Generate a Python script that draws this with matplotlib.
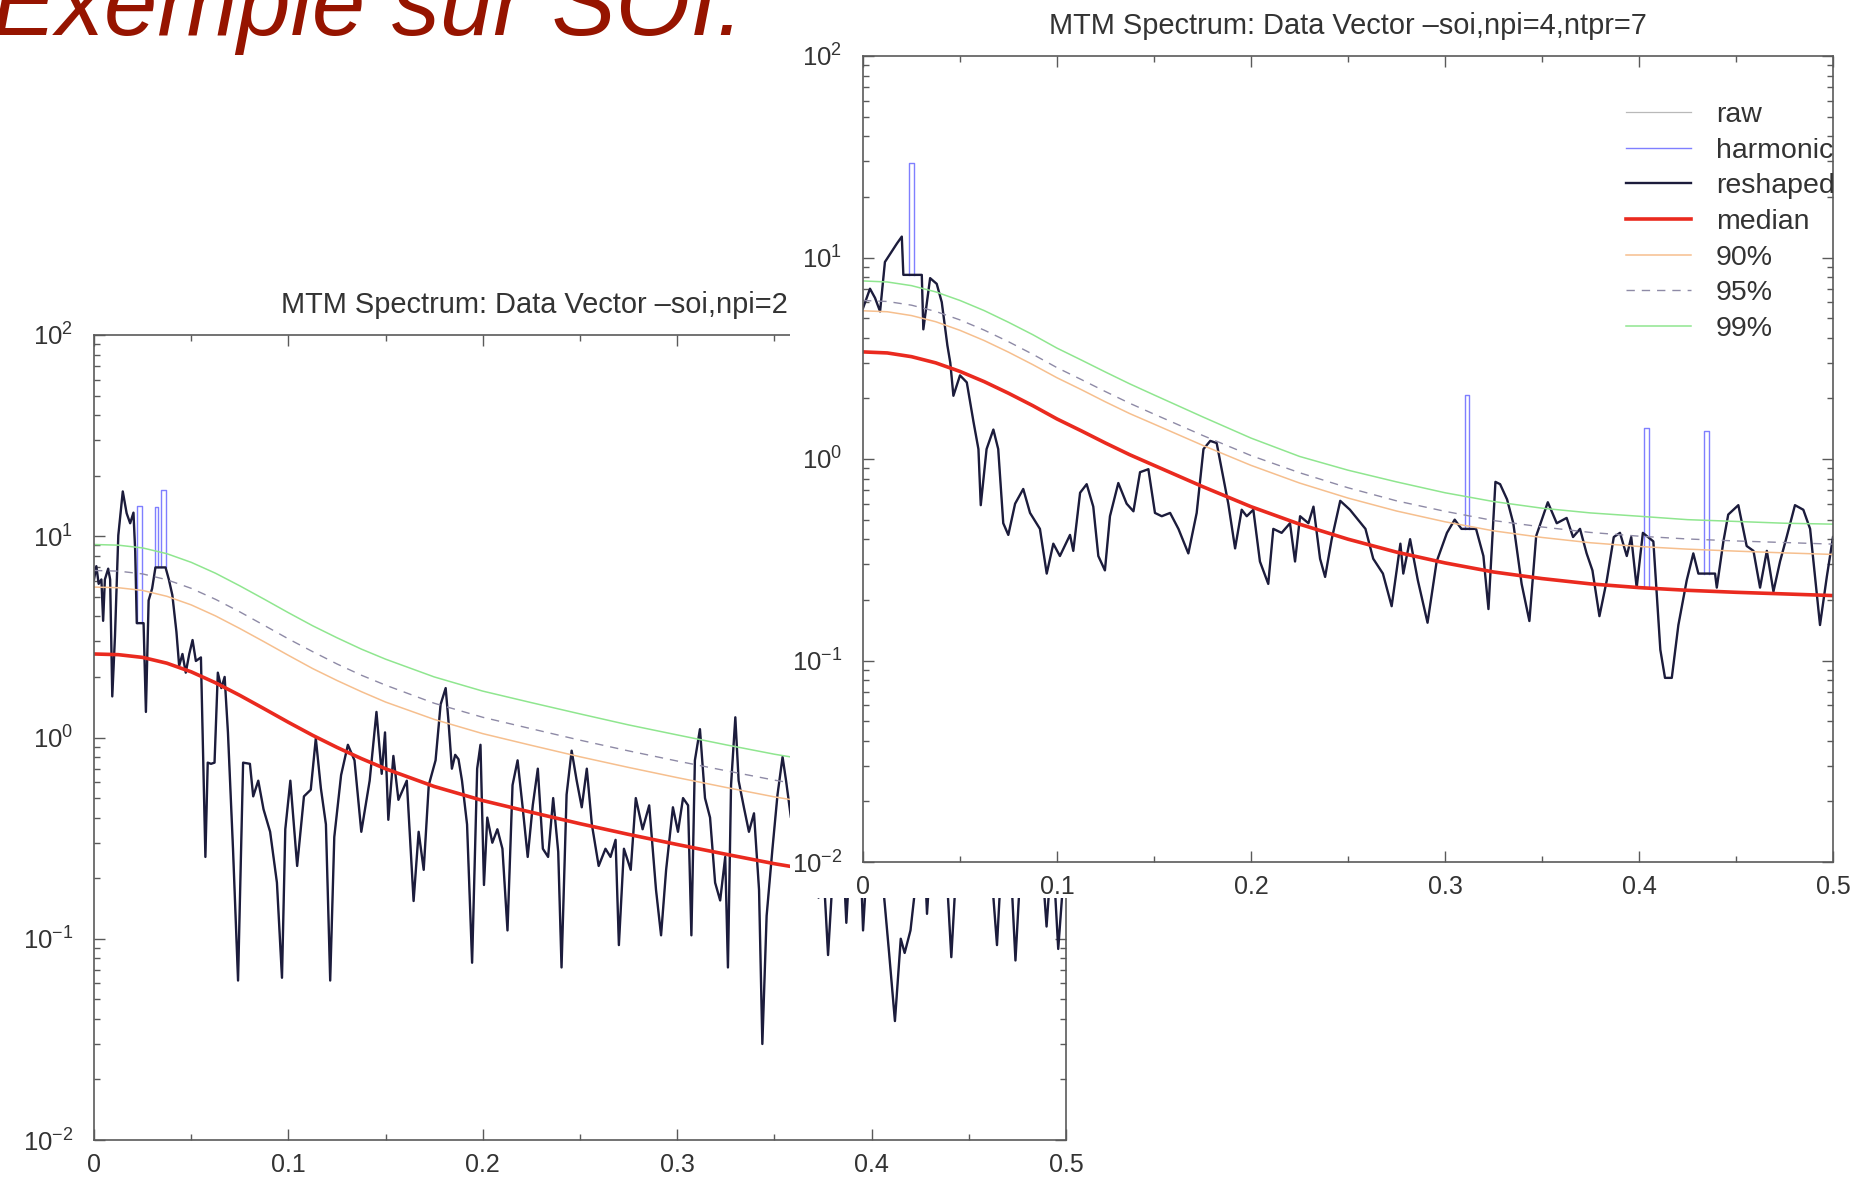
"""
plot.py - two MTM spectra of the SOI series, pasted one over the other like on the slide.
"""

import matplotlib
matplotlib.use("Agg")
import numpy as np
import matplotlib.pyplot as plt
import matplotlib.ticker as ticker


# ------------------------------------------------------------------
# 1. Data
# ------------------------------------------------------------------
# smooth red-noise background + confidence levels
noise_freq = [0.0, 0.0125, 0.025, 0.0375, 0.05, 0.0625, 0.075, 0.0875, 0.1,
              0.1125, 0.125, 0.1375, 0.15, 0.175, 0.2, 0.225, 0.25, 0.275, 0.3,
              0.325, 0.35, 0.375, 0.4, 0.425, 0.45, 0.475, 0.5]

left_median = [2.6, 2.58, 2.5, 2.34, 2.12, 1.87, 1.62, 1.39, 1.19,
               1.025, 0.893, 0.786, 0.699, 0.571, 0.486, 0.425, 0.373, 0.33, 0.294,
               0.263, 0.236, 0.215, 0.199, 0.188, 0.18, 0.175, 0.173]
left_p90 = [5.59, 5.55, 5.38, 5.03, 4.56, 4.02, 3.48, 2.99, 2.56,
            2.2, 1.92, 1.69, 1.5, 1.23, 1.045, 0.914, 0.802, 0.71, 0.632,
            0.565, 0.507, 0.462, 0.428, 0.404, 0.387, 0.376, 0.372]
left_p95 = [6.76, 6.71, 6.5, 6.08, 5.51, 4.86, 4.21, 3.61, 3.09,
            2.67, 2.32, 2.04, 1.82, 1.48, 1.26, 1.105, 0.97, 0.858, 0.764,
            0.684, 0.614, 0.559, 0.517, 0.489, 0.468, 0.455, 0.45]
left_p99 = [9.1, 9.03, 8.75, 8.19, 7.42, 6.55, 5.67, 4.87, 4.17,
            3.59, 3.13, 2.75, 2.45, 2.0, 1.7, 1.49, 1.31, 1.155, 1.03,
            0.92, 0.826, 0.753, 0.697, 0.658, 0.63, 0.613, 0.606]

right_median = [3.4, 3.36, 3.22, 3.0, 2.72, 2.42, 2.12, 1.84, 1.58,
                1.38, 1.2, 1.05, 0.93, 0.73, 0.58, 0.475, 0.40, 0.345, 0.305,
                0.275, 0.255, 0.24, 0.23, 0.223, 0.218, 0.214, 0.21]
right_p90 = [5.44, 5.38, 5.15, 4.8, 4.35, 3.87, 3.39, 2.94, 2.53,
             2.21, 1.92, 1.68, 1.49, 1.17, 0.93, 0.76, 0.64, 0.552, 0.488,
             0.44, 0.408, 0.384, 0.368, 0.357, 0.349, 0.342, 0.336]
right_p95 = [6.12, 6.05, 5.8, 5.4, 4.9, 4.36, 3.82, 3.31, 2.84,
             2.48, 2.16, 1.89, 1.67, 1.31, 1.04, 0.855, 0.72, 0.62, 0.55,
             0.495, 0.46, 0.432, 0.414, 0.401, 0.392, 0.385, 0.378]
right_p99 = [7.65, 7.56, 7.25, 6.75, 6.12, 5.45, 4.77, 4.14, 3.55,
             3.1, 2.7, 2.36, 2.08, 1.62, 1.27, 1.03, 0.88, 0.77, 0.68,
             0.615, 0.57, 0.54, 0.52, 0.5, 0.49, 0.48, 0.475]

# reshaped spectrum, npi=2 (left panel)
left_freq = [
    0.0, 0.0012, 0.0024, 0.0038, 0.0047, 0.0056, 0.0073, 0.0083, 0.0094, 0.0108,
    0.0125, 0.0148, 0.0168, 0.0186, 0.0203, 0.0212, 0.022, 0.0255, 0.0267, 0.0281,
    0.0299, 0.0316, 0.0368, 0.0385, 0.0403, 0.0424, 0.0438, 0.0455, 0.0472, 0.049,
    0.0507, 0.0524, 0.055, 0.0573, 0.0585, 0.0602, 0.062, 0.0637, 0.0655, 0.0672,
    0.0689, 0.0715, 0.0741, 0.0767, 0.0802, 0.0819, 0.0845, 0.0872, 0.0906, 0.0941,
    0.0967, 0.0984, 0.101, 0.1045, 0.108, 0.1115, 0.1141, 0.1167, 0.1193, 0.1215,
    0.1236, 0.1271, 0.1306, 0.134, 0.1375, 0.1418, 0.1453, 0.148, 0.1497, 0.1514,
    0.154, 0.1566, 0.1609, 0.1644, 0.167, 0.1696, 0.1722, 0.1757, 0.1783, 0.1809,
    0.1823, 0.1841, 0.1858, 0.1875, 0.1893, 0.1919, 0.1945, 0.1971, 0.1988, 0.2006,
    0.2023, 0.2049, 0.2075, 0.2101, 0.2127, 0.2153, 0.2179, 0.2205, 0.2231, 0.2257,
    0.2283, 0.2309, 0.2336, 0.2362, 0.2388, 0.2405, 0.2431, 0.2457, 0.2483, 0.2509,
    0.2535, 0.2561, 0.2596, 0.2631, 0.2657, 0.2683, 0.27, 0.2726, 0.2761, 0.2787,
    0.2822, 0.2856, 0.2891, 0.2917, 0.2943, 0.2978, 0.3004, 0.303, 0.3056, 0.3073,
    0.3091, 0.3117, 0.3143, 0.3169, 0.3195, 0.3221, 0.3247, 0.3261, 0.3277, 0.3299,
    0.3316, 0.3343, 0.3369, 0.3395, 0.3421, 0.3438, 0.346, 0.349, 0.3516, 0.3542,
    0.356, 0.3585, 0.362, 0.365, 0.37, 0.3727, 0.3745, 0.3776, 0.381, 0.384,
    0.387, 0.39, 0.393, 0.3956, 0.399, 0.403, 0.406, 0.409, 0.412, 0.415,
    0.417, 0.42, 0.423, 0.426, 0.4285, 0.432, 0.436, 0.441, 0.445, 0.45,
    0.455, 0.46, 0.4645, 0.468, 0.471, 0.474, 0.478, 0.483, 0.487, 0.49,
    0.493, 0.496, 0.5,
]
left_reshaped = [
    6.1, 7.1, 5.8, 6.1, 3.8, 6.1, 6.9, 6.1, 1.6, 3.2,
    10.1, 16.7, 13.0, 11.6, 13.1, 8.4, 3.7, 3.7, 1.34, 4.8,
    5.5, 7.0, 7.0, 6.1, 5.1, 3.35, 2.27, 2.6, 2.1, 2.6,
    3.05, 2.4, 2.5, 0.255, 0.75, 0.74, 0.75, 2.1, 1.76, 2.0,
    1.06, 0.28, 0.062, 0.75, 0.74, 0.51, 0.61, 0.44, 0.34, 0.19,
    0.064, 0.35, 0.61, 0.23, 0.51, 0.55, 0.99, 0.56, 0.37, 0.062,
    0.32, 0.65, 0.92, 0.77, 0.34, 0.61, 1.34, 0.66, 1.06, 0.39,
    0.81, 0.49, 0.61, 0.154, 0.34, 0.22, 0.58, 0.77, 1.46, 1.76,
    1.22, 0.70, 0.82, 0.78, 0.61, 0.37, 0.076, 0.70, 0.92, 0.185,
    0.4, 0.3, 0.35, 0.28, 0.11, 0.58, 0.77, 0.45, 0.255, 0.46,
    0.70, 0.28, 0.255, 0.5, 0.27, 0.072, 0.52, 0.86, 0.61, 0.45,
    0.70, 0.37, 0.23, 0.28, 0.255, 0.31, 0.093, 0.28, 0.22, 0.5,
    0.35, 0.46, 0.175, 0.104, 0.22, 0.45, 0.34, 0.5, 0.46, 0.104,
    0.77, 1.1, 0.5, 0.4, 0.19, 0.155, 0.255, 0.072, 0.58, 1.26,
    0.61, 0.45, 0.34, 0.42, 0.175, 0.030, 0.13, 0.28, 0.52, 0.8,
    0.61, 0.4, 0.5, 0.35, 0.6, 0.16, 0.3, 0.083, 0.3, 0.5,
    0.12, 0.4, 0.6, 0.11, 0.4, 0.5, 0.18, 0.085, 0.039, 0.1,
    0.085, 0.11, 0.2, 0.5, 0.133, 0.45, 0.6, 0.081, 0.4, 0.7,
    0.5, 0.35, 0.093, 0.4, 0.3, 0.078, 0.4, 0.6, 0.3, 0.115,
    0.3, 0.089, 0.3,
]

# reshaped spectrum, npi=4 (right panel)
right_freq = [
    0.0, 0.0036, 0.0062, 0.0088, 0.0113, 0.0148, 0.0174, 0.02, 0.0208, 0.0303,
    0.0311, 0.0346, 0.038, 0.0406, 0.0435, 0.045, 0.0466, 0.05, 0.0535, 0.057,
    0.0595, 0.0607, 0.0637, 0.0672, 0.0697, 0.0723, 0.0749, 0.0784, 0.0826, 0.0861,
    0.0912, 0.0947, 0.0981, 0.1015, 0.1067, 0.1084, 0.1119, 0.1153, 0.1187, 0.1213,
    0.1247, 0.1273, 0.1316, 0.1359, 0.1394, 0.1428, 0.1471, 0.1505, 0.154, 0.1583,
    0.1626, 0.1677, 0.172, 0.1755, 0.179, 0.1823, 0.1849, 0.1883, 0.1918, 0.1952,
    0.1978, 0.2012, 0.2046, 0.2089, 0.2115, 0.2158, 0.2201, 0.2227, 0.2253, 0.2296,
    0.2322, 0.2356, 0.2382, 0.2416, 0.246, 0.251, 0.259, 0.263, 0.268, 0.2725,
    0.277, 0.2785, 0.282, 0.286, 0.291, 0.2957, 0.301, 0.305, 0.3085, 0.316,
    0.3198, 0.3224, 0.326, 0.3284, 0.332, 0.3352, 0.3395, 0.3435, 0.347, 0.353,
    0.3576, 0.3627, 0.366, 0.3696, 0.373, 0.376, 0.3796, 0.3834, 0.387, 0.3902,
    0.3937, 0.396, 0.3988, 0.402, 0.4074, 0.411, 0.4134, 0.4169, 0.4203, 0.4246,
    0.428, 0.4306, 0.4392, 0.4401, 0.4435, 0.446, 0.4512, 0.4555, 0.459, 0.4624,
    0.4659, 0.4693, 0.4727, 0.4761, 0.4804, 0.4847, 0.4882, 0.4933, 0.4968, 0.5,
]
right_reshaped = [
    5.6, 7.0, 6.3, 5.4, 9.5, 10.7, 11.7, 12.7, 8.2, 8.2,
    4.4, 7.9, 7.4, 6.0, 3.66, 3.0, 2.06, 2.6, 2.4, 1.52,
    1.12, 0.59, 1.12, 1.4, 1.12, 0.48, 0.42, 0.6, 0.71, 0.54,
    0.45, 0.27, 0.38, 0.33, 0.42, 0.35, 0.68, 0.75, 0.58, 0.33,
    0.28, 0.52, 0.76, 0.6, 0.55, 0.86, 0.89, 0.54, 0.52, 0.54,
    0.45, 0.34, 0.54, 1.12, 1.23, 1.2, 0.89, 0.6, 0.36, 0.56,
    0.52, 0.56, 0.31, 0.24, 0.45, 0.43, 0.48, 0.31, 0.52, 0.48,
    0.58, 0.32, 0.26, 0.40, 0.62, 0.56, 0.45, 0.32, 0.27, 0.186,
    0.38, 0.27, 0.40, 0.25, 0.154, 0.31, 0.43, 0.50, 0.45, 0.45,
    0.33, 0.18, 0.77, 0.75, 0.63, 0.48, 0.24, 0.157, 0.415, 0.61,
    0.48, 0.51, 0.41, 0.45, 0.34, 0.28, 0.166, 0.25, 0.41, 0.43,
    0.33, 0.41, 0.23, 0.43, 0.39, 0.113, 0.082, 0.082, 0.15, 0.25,
    0.34, 0.27, 0.27, 0.23, 0.39, 0.53, 0.59, 0.37, 0.35, 0.23,
    0.35, 0.22, 0.31, 0.41, 0.59, 0.56, 0.45, 0.15, 0.26, 0.41,
]

# harmonic lines (blue boxes): start / end frequency, top, base
left_harm_lo = [0.0220, 0.0313, 0.0347]
left_harm_hi = [0.0247, 0.0330, 0.0372]
left_harm_top = [14.2, 13.9, 16.9]
left_harm_base = [3.7, 7.0, 7.0]

right_harm_lo = [0.0235, 0.3103, 0.4026, 0.4337]
right_harm_hi = [0.0262, 0.3126, 0.4054, 0.4361]
right_harm_top = [29.4, 2.07, 1.43, 1.37]
right_harm_base = [8.2, 0.45, 0.23, 0.27]

left_title = "MTM Spectrum: Data Vector \u2013soi,npi=2,ntpr=3"
right_title = "MTM Spectrum: Data Vector \u2013soi,npi=4,ntpr=7"
slide_title = "Exemple sur SOI."

legend_labels = ["raw", "harmonic", "reshaped", "median", "90%", "95%", "99%"]


# ------------------------------------------------------------------
# 2. Style
# ------------------------------------------------------------------
plt.rcParams["font.family"] = ["Liberation Sans", "DejaVu Sans"]
plt.rcParams["mathtext.fontset"] = "custom"
plt.rcParams["mathtext.rm"] = "Liberation Sans"
plt.rcParams["mathtext.it"] = "Liberation Sans:italic"
plt.rcParams["mathtext.default"] = "regular"

C_RAW = "#b9b9b9"
C_HARM = "#7f7fff"
C_RESH = "#1c1c3c"
C_MED = "#ea2a1f"
C_P90 = "#f6bf8e"
C_P95 = "#8e8aa6"
C_P99 = "#8fe68f"
C_AXIS = "#5a5a5a"
C_TEXT = "#333333"

W, H = 1872, 1181


def px_box(x0, y_top, x1, y_bot):
    """pixel box (top-left origin) -> figure fraction rect"""
    return [x0 / W, 1 - y_bot / H, (x1 - x0) / W, (y_bot - y_top) / H]


def draw_panel(ax, freq, resh, median, p90, p95, p99,
               h_lo, h_hi, h_top, h_base, title):
    ax.set_yscale("log")
    ax.set_xlim(0, 0.5)
    ax.set_ylim(1e-2, 1e2)

    ax.plot(freq, resh, color=C_RAW, lw=0.9, label=legend_labels[0])
    for i in range(len(h_lo)):
        ax.plot([h_lo[i], h_lo[i], h_hi[i], h_hi[i]],
                [h_base[i], h_top[i], h_top[i], h_base[i]],
                color=C_HARM, lw=1.0,
                label=legend_labels[1] if i == 0 else None)
    ax.plot(freq, resh, color=C_RESH, lw=1.7, label=legend_labels[2])
    ax.plot(noise_freq, median, color=C_MED, lw=2.6, label=legend_labels[3])
    ax.plot(noise_freq, p90, color=C_P90, lw=1.1, label=legend_labels[4])
    ax.plot(noise_freq, p95, color=C_P95, lw=1.0, dashes=(6, 5),
            label=legend_labels[5])
    ax.plot(noise_freq, p99, color=C_P99, lw=1.1, label=legend_labels[6])

    ax.xaxis.set_major_locator(ticker.MultipleLocator(0.1))
    ax.xaxis.set_minor_locator(ticker.MultipleLocator(0.05))
    ax.xaxis.set_major_formatter(ticker.FuncFormatter(
        lambda v, p: "0" if abs(v) < 1e-9 else f"{v:.1f}"))
    ax.yaxis.set_major_locator(ticker.LogLocator(base=10, numticks=10))
    ax.yaxis.set_minor_locator(ticker.LogLocator(base=10, subs=np.arange(2, 10),
                                                 numticks=20))
    ax.yaxis.set_minor_formatter(ticker.NullFormatter())
    ax.yaxis.set_major_formatter(ticker.FuncFormatter(
        lambda v, p: r"$10^{%d}$" % int(round(np.log10(v)))))

    ax.tick_params(which="both", direction="in", top=True, right=True,
                   color=C_AXIS, width=1.0)
    ax.tick_params(which="major", length=8)
    ax.tick_params(which="minor", length=4)
    ax.tick_params(axis="x", labelsize=18, pad=9, labelcolor=C_TEXT)
    ax.tick_params(axis="y", labelsize=18.5, pad=15, labelcolor=C_TEXT)
    for sp in ax.spines.values():
        sp.set_color(C_AXIS)
        sp.set_linewidth(1.2)

    ax.set_title(title, fontsize=20.9, color=C_TEXT, pad=16)


# ------------------------------------------------------------------
# 3. Figure
# ------------------------------------------------------------------
fig = plt.figure(figsize=(W / 100, H / 100), dpi=100)
fig.patch.set_facecolor("white")

ax_l = fig.add_axes(px_box(94, 335, 1066, 1140), zorder=1)
draw_panel(ax_l, left_freq, left_reshaped, left_median, left_p90, left_p95,
           left_p99, left_harm_lo, left_harm_hi, left_harm_top, left_harm_base,
           left_title)

# the second graph was pasted on top of the first one: white sheet behind it
cover = fig.add_axes(px_box(790, 0, W, 898), zorder=2)
cover.set_facecolor("white")
cover.set_xticks([])
cover.set_yticks([])
for sp in cover.spines.values():
    sp.set_visible(False)

ax_r = fig.add_axes(px_box(863, 56, 1833, 862), zorder=3)
draw_panel(ax_r, right_freq, right_reshaped, right_median, right_p90, right_p95,
           right_p99, right_harm_lo, right_harm_hi, right_harm_top,
           right_harm_base, right_title)

leg = ax_r.legend(loc="upper left", bbox_to_anchor=(1626 / W, 1 - 102 / H),
                  bbox_transform=fig.transFigure, frameon=False,
                  fontsize=20.5, handlelength=2.3, handletextpad=0.85,
                  labelspacing=0.34, borderpad=0, borderaxespad=0)
for t in leg.get_texts():
    t.set_color(C_TEXT)

fig.text(-8 / W, 1 - 35 / H, slide_title, fontsize=69, style="italic",
         color="#961400", ha="left", va="baseline", zorder=10)

fig.savefig("out.png", dpi=100, facecolor="white")
print("[Plot] saved -> out.png")
